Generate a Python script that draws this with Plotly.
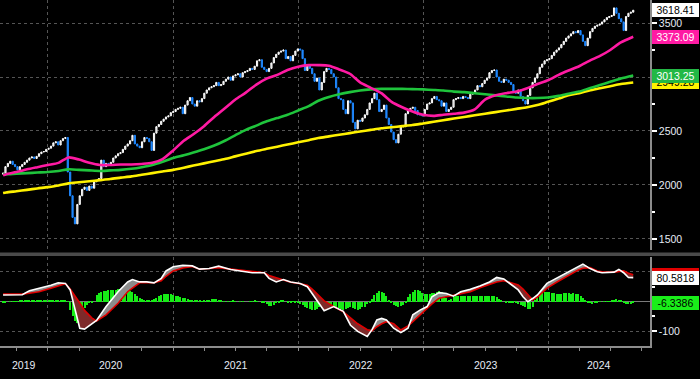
import numpy as np
import pandas as pd
import plotly.graph_objects as go

# ---------------- DATA ----------------
start_date = "2019-08-23"          # first weekly bar (Fridays)
first_open = 2100

closes_2019 = [2110, 2170, 2200, 2220, 2190, 2170, 2140, 2170, 2190, 2210, 2230, 2250,
               2260, 2245, 2265, 2290, 2305, 2310, 2330]
closes_2020 = [2340, 2360, 2390, 2400, 2370,
               2410, 2430, 2440, 2120,
               1900, 1700, 1640, 1820,
               1900, 1960, 1980, 1950,
               1990, 1970, 2030, 2040, 2060,
               2230, 2170, 2200, 2180,
               2210, 2250, 2270, 2290, 2300,
               2330, 2360, 2380, 2410,
               2460, 2380, 2360, 2345,
               2400, 2440, 2430, 2400, 2320,
               2480, 2540, 2560, 2590,
               2610, 2630, 2640, 2670]
closes_2021 = [2680, 2700, 2710, 2720, 2660,
               2740, 2780, 2810, 2750,
               2730, 2780, 2770, 2800,
               2850, 2880, 2900, 2910, 2920,
               2950, 2920, 2930, 2960,
               2980, 3000, 2970, 3010,
               3020, 3030, 3000, 3040, 3050,
               3060, 3080, 3070, 3100,
               3150, 3160, 3090, 3070,
               3050, 3080, 3130, 3180, 3210,
               3230, 3240, 3250, 3170,
               3190, 3150, 3200, 3240, 3260]
closes_2022 = [3250, 3170, 3060, 3110,
               3080, 3030, 2960, 2990,
               2880, 2950, 3050, 3080,
               3070, 3030, 3000, 2900, 2800,
               2790, 2700, 2660, 2780,
               2760, 2580, 2520, 2600,
               2590, 2620, 2650, 2700, 2760,
               2800, 2850, 2790, 2680,
               2700, 2740, 2620, 2560, 2490,
               2420, 2390, 2470, 2540,
               2540, 2660, 2690, 2710,
               2720, 2690, 2650, 2650, 2640]
closes_2023 = [2700, 2750, 2760, 2800,
               2820, 2790, 2780, 2730,
               2760, 2680, 2700, 2720, 2790,
               2800, 2810, 2800, 2820,
               2810, 2800, 2840, 2850,
               2880, 2920, 2910, 2940, 2970,
               2990, 3040, 3060, 3065,
               3000, 2960, 2950, 2980,
               2970, 2950, 2930, 2860, 2850,
               2880, 2820, 2780, 2750,
               2830, 2900, 2950, 2990,
               3030, 3090, 3120, 3150, 3160]
closes_2024 = [3170, 3200, 3230, 3250,
               3270, 3300, 3330, 3360,
               3380, 3400, 3420, 3410, 3430,
               3390, 3330, 3290, 3360,
               3420, 3450, 3470, 3480, 3490,
               3510, 3530, 3550, 3560,
               3570, 3640, 3590, 3540,
               3510, 3430, 3560, 3590, 3600,
               3618.41]

# moving averages, read monthly
ma_start = "2019-08-23"
ma_end = "2024-09-06"
ma_pink = [2090,
           2100, 2120, 2145, 2165,
           2185, 2205, 2255, 2235, 2205, 2185, 2185, 2190, 2190, 2195, 2205, 2240,
           2320, 2410, 2470, 2545, 2630, 2710, 2790, 2855, 2930, 2985, 3020, 3065,
           3095, 3110, 3110, 3105, 3070, 3030, 2950, 2900, 2850, 2770, 2720, 2680,
           2650, 2640, 2650, 2660, 2670, 2700, 2790, 2830, 2850, 2865, 2895, 2935,
           2970, 3020, 3060, 3100, 3150, 3195, 3250, 3320,
           3373.09]
ma_green = [2100,
            2100, 2105, 2110, 2115,
            2120, 2130, 2145, 2140, 2135, 2130, 2135, 2140, 2150, 2165, 2185, 2215,
            2250, 2275, 2300, 2330, 2365, 2410, 2460, 2510, 2550, 2590, 2620, 2650,
            2690, 2730, 2780, 2815, 2840, 2860, 2875, 2885, 2890, 2890, 2890, 2888,
            2885, 2880, 2875, 2865, 2860, 2850, 2840, 2830, 2820, 2810, 2805, 2805,
            2810, 2825, 2845, 2865, 2895, 2925, 2955, 2985,
            3013.25]
ma_yellow = [1925,
             1930, 1942, 1955, 1968,
             1980, 1995, 2015, 2025, 2035, 2045, 2055, 2068, 2080, 2095, 2110, 2125,
             2140, 2160, 2180, 2200, 2220, 2240, 2265, 2290, 2315, 2335, 2355, 2375,
             2395, 2415, 2435, 2450, 2465, 2480, 2495, 2510, 2525, 2535, 2545, 2555,
             2570, 2585, 2600, 2615, 2630, 2645, 2660, 2675, 2690, 2705, 2720, 2740,
             2770, 2800, 2830, 2850, 2875, 2895, 2915, 2935,
             2949.28]

# oscillator (week index of the weekly bars)
osc_idx = [0, 4, 8, 11, 15, 20, 23, 26, 28, 30, 32, 34, 37, 39, 43, 48, 52, 54, 57, 60,
           63, 66, 68, 71, 75, 79, 82, 86, 90, 95, 99, 104, 109, 111, 114, 117, 120, 124,
           127, 129, 132, 134, 138, 142, 145, 148, 152, 154, 156, 158, 160, 163, 166, 169,
           171, 174, 177, 179, 182, 185, 188, 191, 195, 199, 203, 206, 209, 212, 215, 217,
           219, 221, 223, 227, 231, 235, 240, 242, 245, 248, 250, 255, 257, 259, 261, 263]
osc_main = [22, 22, 23, 36, 44, 55, 63, 61, 39, -23, -90, -93, -76, -64, -17, 33, 66, 74, 66, 66,
            63, 78, 103, 117, 122, 120, 109, 111, 119, 108, 103, 97, 97, 78, 66, 74, 66, 61,
            50, 27, -6, -31, -17, -33, -80, -101, -118, -95, -62, -57, -62, -90, -105, -90,
            -45, -29, -17, 16, 30, 27, 18, 33, 41, 52, 66, 81, 76, 56, 39, 16,
            -1, 10, 22, 61, 78, 97, 117, 126, 111, 100, 97, 99, 108, 97, 81, 80.5818]
osc_signal = [25, 25, 25, 28, 33, 45, 52, 60, 42, 20, -5, -30, -55, -66, -45, -6, 33, 45, 63, 63,
              63, 70, 85, 103, 113, 118, 109, 111, 114, 109, 105, 101, 97, 88, 80, 72, 65, 60,
              55, 42, 20, 2, -17, -35, -55, -75, -95, -99, -85, -75, -68, -75, -96, -82,
              -68, -45, -22, -8, 11, 16, 20, 25, 33, 46, 58, 66, 70, 64, 56, 42,
              22, 5, 15, 45, 65, 84, 106, 112, 114, 103, 100, 99, 102, 103, 95, 90.2]
osc_hist = [-3, -2, 0, 1, 1, 1, 1, 2, 2, 3, 3,
            4, 4, 5, 5, 5, 6, 6, 6, 6, 5, 5, 5, 4, 3, 3, 2, 1,
            -28, -50, -67, -73, -56, -39, -22, -11, -6, -3, 0,
            22, 30, 33, 36, 37, 38, 39, 39, 40, 41, 41, 40, 39, 38, 37, 32, 25, 20, 12,
            8, 6, 5, 6, 6,
            9, 13, 17, 22, 24, 25, 25, 24, 22, 19, 17, 15, 13, 11, 8, 6, 4, 3,
            2, 2, 1, 2, 3, 5,
            8, 9, 8, 6, 3,
            1, 0, -1, 1, 2, 1, 0, -1, 1, 0, 0, -1, 1, 2, 1, 0, -2,
            -4, -9, -14, -15, -11, -6, -2,
            3, 2, 0, -2, -2, -1,
            -3, -5, -9, -13, -17, -21, -24,
            -28, -27, -24, -20, -15, -10, -7, -8, -12,
            -16, -20, -22, -26, -27, -25, -22,
            -20, -22, -25, -27, -24, -20, -17, -10,
            -6, 8, 22, 30, 34, 32, 27, 17, 5, -3,
            -11, -15, -17, -16, -12, -5,
            15, 24, 32, 39, 38, 34, 30,
            26, 25, 26, 28, 30, 33, 34, 31,
            22, 12, 6, 9,
            14, 17, 17, 18, 18, 17, 18, 19, 19, 18, 18, 19, 19,
            19, 18, 19, 18, 17,
            15, 8, 3, 0, -4,
            -6, -6, -6, -6, -8, -11,
            -16, -20, -24, -26, -18,
            5, 14, 22, 28, 31,
            33, 31, 28, 27, 26, 26, 26, 27, 27,
            27, 26, 27, 26,
            24, 19, 12, 4, -3,
            -6, -7, -6, -3, -1, 0, 1, 1,
            1, 3, 6, 9, 6, 2,
            -4, -8, -9, -7, -6.3386]

years = [2019, 2020, 2021, 2022, 2023, 2024]
price_ticks = [1500, 2000, 2500, 3000, 3500]
price_ticktext = ["1500", "2000", "2500", "", "3500"]
osc_ticks = [-100, 0, 100]
osc_ticktext = ["-100", "", ""]
x_range = ["2019-08-14", "2024-10-25"]

# ---------------- BUILD ----------------
closes = closes_2019 + closes_2020 + closes_2021 + closes_2022 + closes_2023 + closes_2024
dates = pd.date_range(start_date, periods=len(closes), freq="W-FRI")
opens = [first_open] + closes[:-1]
highs = np.maximum(opens, closes)
lows = np.minimum(opens, closes)

ma_dates = ([pd.Timestamp(ma_start)] + list(pd.date_range("2019-09-01", "2024-08-01", freq="MS"))
            + [pd.Timestamp(ma_end)])

osc_dates = dates[osc_idx]
hist_dates = pd.date_range(start_date, periods=len(osc_hist), freq="W-FRI")
main_arr = np.array(osc_main, dtype=float)
sig_arr = np.array(osc_signal, dtype=float)

FONT = "Liberation Sans, Arial, sans-serif"
GRID = "#555555"
AXC = "#8c8c8c"
TXT = "#e6ecf5"

fig = go.Figure()

fig.add_trace(go.Candlestick(
    x=dates, open=opens, high=highs, low=lows, close=closes,
    xaxis="x", yaxis="y",
    increasing=dict(line=dict(color="#ffffff", width=1), fillcolor="#b4b4b4"),
    decreasing=dict(line=dict(color="#1f88ff", width=1), fillcolor="#1f88ff"),
    whiskerwidth=0, showlegend=False, hoverinfo="skip"))

for vals, col in [(ma_yellow, "#fff200"), (ma_green, "#1fc43c"), (ma_pink, "#ff1aa3")]:
    fig.add_trace(go.Scatter(x=ma_dates, y=vals, mode="lines", xaxis="x", yaxis="y",
                             line=dict(color=col, width=2.6, shape="spline", smoothing=0.7),
                             showlegend=False, hoverinfo="skip"))

# oscillator fills (gray where main above signal, dark red where below)
clear = dict(width=0, color="rgba(0,0,0,0)")
fig.add_trace(go.Scatter(x=osc_dates, y=sig_arr, mode="lines", line=clear,
                         xaxis="x2", yaxis="y2", showlegend=False, hoverinfo="skip"))
fig.add_trace(go.Scatter(x=osc_dates, y=np.maximum(main_arr, sig_arr), mode="lines",
                         line=clear, fill="tonexty", fillcolor="#8c8c8c",
                         xaxis="x2", yaxis="y2", showlegend=False, hoverinfo="skip"))
fig.add_trace(go.Scatter(x=osc_dates, y=sig_arr, mode="lines", line=clear,
                         xaxis="x2", yaxis="y2", showlegend=False, hoverinfo="skip"))
fig.add_trace(go.Scatter(x=osc_dates, y=np.minimum(main_arr, sig_arr), mode="lines",
                         line=clear, fill="tonexty", fillcolor="#7d2a2a",
                         xaxis="x2", yaxis="y2", showlegend=False, hoverinfo="skip"))

fig.add_trace(go.Bar(x=hist_dates, y=osc_hist, width=3 * 86400000,
                     marker=dict(color="#16ec16", line=dict(width=0)),
                     xaxis="x2", yaxis="y2", showlegend=False, hoverinfo="skip"))

fig.add_trace(go.Scatter(x=osc_dates, y=osc_signal, mode="lines", line=dict(color="#e00000", width=1.6),
                         xaxis="x2", yaxis="y2", showlegend=False, hoverinfo="skip"))
fig.add_trace(go.Scatter(x=osc_dates, y=osc_main, mode="lines", line=dict(color="#ffffff", width=1.6),
                         xaxis="x2", yaxis="y2", showlegend=False, hoverinfo="skip"))

year_starts = [pd.Timestamp(f"{y}-01-01") for y in years[1:]]
quarter_starts = list(pd.date_range("2019-10-01", "2024-10-01", freq="QS"))

H = 346.0
top_dom = [(H - 250) / H, 1.0]
bot_dom = [0.0, (H - 257) / H]

fig.update_layout(
    template="none",
    width=700, height=379,
    margin=dict(l=0, r=50, t=0, b=33, pad=0),
    paper_bgcolor="#000000", plot_bgcolor="#000000",
    font=dict(family=FONT, color=TXT, size=10.5),
    showlegend=False,
    bargap=0, barmode="overlay",
    xaxis=dict(domain=[0, 1], anchor="y", range=x_range, type="date", automargin=False,
               showticklabels=False, ticks="", tickmode="array", tickvals=year_starts,
               showgrid=True, gridcolor=GRID, griddash="dot", gridwidth=1,
               zeroline=False, showline=False, rangeslider=dict(visible=False), fixedrange=True),
    xaxis2=dict(domain=[0, 1], anchor="y2", matches="x", range=x_range, type="date", automargin=False,
                tickmode="array", tickvals=year_starts, ticktext=[""] * len(year_starts),
                ticks="outside", ticklen=27, tickcolor=AXC, tickwidth=1.2,
                showgrid=True, gridcolor=GRID, griddash="dot", gridwidth=1,
                showline=True, linecolor=AXC, linewidth=2, zeroline=False,
                minor=dict(tickmode="array", tickvals=quarter_starts, ticks="outside",
                           ticklen=3, tickcolor=AXC, tickwidth=1.2, showgrid=False)),
    yaxis=dict(domain=top_dom, anchor="x", side="right", range=[1398, 3713], automargin=False,
               tickmode="array", tickvals=price_ticks, ticktext=price_ticktext,
               ticks="outside", ticklen=5, tickwidth=2, tickcolor="#ffffff",
               showgrid=True, gridcolor=GRID, griddash="dot", gridwidth=1,
               showline=True, linecolor=AXC, linewidth=1.5, zeroline=False,
               tickfont=dict(size=10.5, color=TXT),
               minor=dict(tickmode="array", tickvals=[1750, 2250, 2750, 3250], ticks="outside",
                          ticklen=3, tickcolor="#ffffff", showgrid=False)),
    yaxis2=dict(domain=bot_dom, anchor="x2", side="right", range=[-150, 150], automargin=False,
                tickmode="array", tickvals=osc_ticks, ticktext=osc_ticktext,
                ticks="outside", ticklen=5, tickwidth=2, tickcolor="#ffffff",
                showgrid=True, gridcolor=GRID, griddash="dot", gridwidth=1,
                zeroline=True, zerolinecolor="#7a7a7a", zerolinewidth=1,
                showline=True, linecolor=AXC, linewidth=1.5,
                tickfont=dict(size=10.5, color=TXT),
                minor=dict(tickmode="array", tickvals=[-50, 50], ticks="outside",
                           ticklen=3, tickcolor="#ffffff", showgrid=False)),
)

# panel separator bar
fig.add_shape(type="rect", xref="paper", yref="paper", x0=0, x1=700 / 650,
              y0=(H - 256) / H, y1=(H - 252.5) / H, fillcolor="#4a4a4a", line=dict(width=0), layer="above")

# year labels centred in the visible part of each year
xmin, xmax = pd.Timestamp(x_range[0]), pd.Timestamp(x_range[1])
for y in years:
    a = max(pd.Timestamp(f"{y}-01-01"), xmin)
    b = min(pd.Timestamp(f"{y + 1}-01-01"), xmax)
    mid = a + (b - a) / 2
    fig.add_annotation(x=mid, y=-0.055, xref="x2", yref="paper", text=str(y), showarrow=False,
                       font=dict(size=10.5, color=TXT, family=FONT), yanchor="middle")


def tag(yref, val, text, bg, fg):
    fig.add_annotation(x=1, xref="paper", xanchor="left", xshift=2, y=val, yref=yref,
                       yanchor="middle", text=text, showarrow=False, bgcolor=bg,
                       font=dict(size=10.5, color=fg, family=FONT), borderpad=1, width=45,
                       align="center", borderwidth=0)


tag("y", ma_yellow[-1], f"{ma_yellow[-1]:.2f}", "#fff200", "#000000")
tag("y", ma_green[-1], f"{ma_green[-1]:.2f}", "#23b845", "#ffffff")
tag("y", ma_pink[-1], f"{ma_pink[-1]:.2f}", "#ff1aa3", "#ffffff")
tag("y", closes[-1], f"{closes[-1]:.2f}", "#ffffff", "#000000")
tag("y2", osc_signal[-1], f"{osc_signal[-1]:.4f}", "#e00000", "#ffffff")
tag("y2", osc_main[-1], f"{osc_main[-1]:.4f}", "#ffffff", "#000000")
tag("y2", osc_hist[-1], f"{osc_hist[-1]:.4f}", "#19ee19", "#000000")

fig.write_html("out.html", config={"displayModeBar": False},
               post_script="document.body.style.margin='0px';")
